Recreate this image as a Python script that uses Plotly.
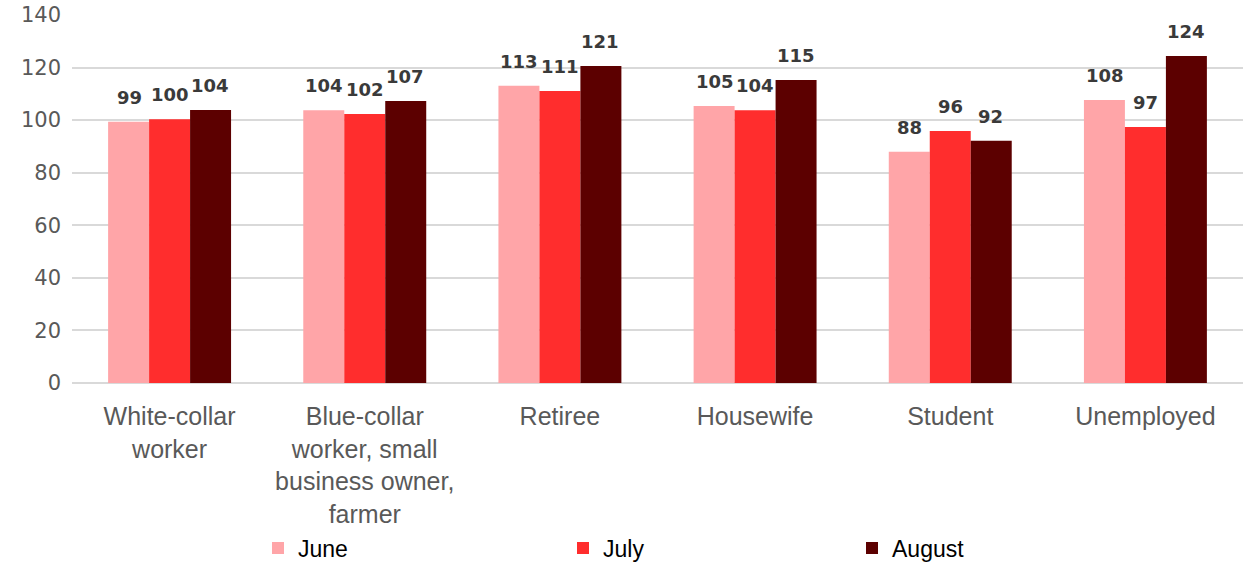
"""
Index by occupation group: June / July / August grouped bar chart.
"""

import plotly.graph_objects as go

categories = [
    "White-collar<br>worker",
    "Blue-collar<br>worker, small<br>business owner,<br>farmer",
    "Retiree",
    "Housewife",
    "Student",
    "Unemployed",
]
june = [99.4, 103.8, 113.1, 105.4, 88.0, 107.7]
july = [100.3, 102.3, 111.1, 103.8, 95.9, 97.4]
august = [103.9, 107.3, 120.6, 115.3, 92.2, 124.4]

series = [
    ("June", june, "#ffa5a8"),
    ("July", july, "#ff2d2d"),
    ("August", august, "#5c0000"),
]

W, H = 1246, 567

# one legend per series so the entries can be spread like the original
legend_ids = ["legend", "legend2", "legend3"]
legend_x = [258, 563, 852]

fig = go.Figure()
for (name, vals, color), lid in zip(series, legend_ids):
    fig.add_trace(go.Bar(
        x=categories, y=vals, name=name,
        marker=dict(color=color, line=dict(width=0)),
        legend=lid,
    ))

# data labels sit a bit above each bar, centred on it
n = len(series)
for i, (name, vals, color) in enumerate(series):
    for j, v in enumerate(vals):
        fig.add_annotation(
            x=j, y=v, xref="x", yref="y",
            text=f"{round(v):d}", showarrow=False,
            xshift=(i - (n - 1) / 2) * 40.5,
            yanchor="bottom", yshift=12,
            font=dict(family="DejaVu Sans", size=18, color="#3a3a3a", weight="bold"),
        )

legend_style = dict(
    orientation="h", xref="container", yref="container",
    xanchor="left", yanchor="middle", y=1 - 548 / H,
    font=dict(family="Liberation Sans", size=23, color="#000000"),
    itemwidth=30, bgcolor="rgba(0,0,0,0)",
)

fig.update_layout(
    width=W, height=H,
    paper_bgcolor="white", plot_bgcolor="white",
    font=dict(family="Liberation Sans", size=22, color="#595959"),
    barmode="group", bargap=0.37, bargroupgap=0,
    margin=dict(l=72, r=3, t=15, b=184, autoexpand=False),
    xaxis=dict(showgrid=False, showline=False, ticks="", ticklabelstandoff=16,
               tickfont=dict(size=25, color="#595959"), automargin=False),
    yaxis=dict(range=[0, 140], dtick=20, gridcolor="#d9d9d9", gridwidth=1.5,
               zeroline=True, zerolinecolor="#d9d9d9", zerolinewidth=1.5,
               showline=False, ticks="", ticklabelstandoff=10, automargin=False,
               tickfont=dict(family="DejaVu Sans", size=21, color="#595959")),
    legend=dict(legend_style, x=legend_x[0] / W),
    legend2=dict(legend_style, x=legend_x[1] / W),
    legend3=dict(legend_style, x=legend_x[2] / W),
    showlegend=True,
)

# drop the browser's default body margin so the figure fills the window
fig.write_html("out.html", config={"displayModeBar": False},
               post_script="document.body.style.margin = '0';")
